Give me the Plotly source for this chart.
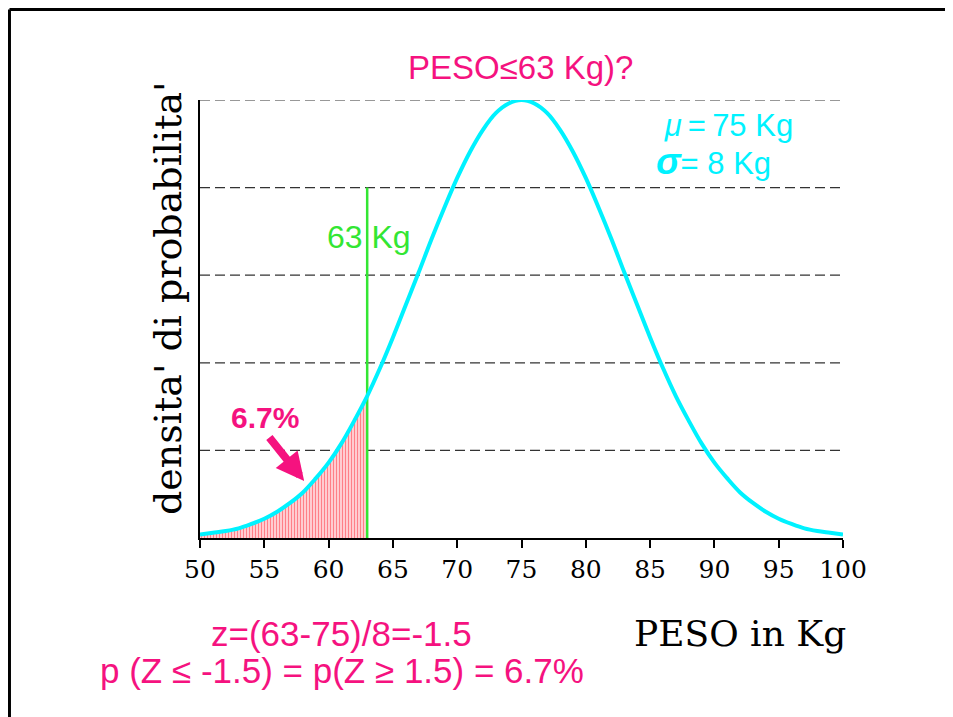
import plotly.graph_objects as go

# Values: density on a 0-5 scale (5 = peak, top dashed line)
peso = list(range(50, 101))
densita = [
    0.04, 0.06, 0.08, 0.11, 0.16, 0.22, 0.30, 0.40, 0.52, 0.68,
    0.86, 1.08, 1.34, 1.62, 1.94, 2.29, 2.66, 3.03, 3.41, 3.77,
    4.11, 4.41, 4.66, 4.85, 4.96, 5.00, 4.96, 4.85, 4.66, 4.41,
    4.11, 3.77, 3.41, 3.03, 2.66, 2.29, 1.94, 1.62, 1.34, 1.08,
    0.86, 0.68, 0.52, 0.40, 0.30, 0.22, 0.16, 0.11, 0.08, 0.06,
    0.04,
]
soglia = 63
soglia_alt = 4
x_ticks = list(range(50, 101, 5))
grid_levels = [1, 2, 3, 4, 5]

MAGENTA = "#F5127F"
CYAN = "#00F2FF"
GREEN = "#33E633"

# area under the curve up to the threshold
coda_x = [p for p in peso if p <= soglia]
coda_y = densita[:len(coda_x)]

fig = go.Figure()

fig.add_trace(go.Scatter(
    x=coda_x, y=coda_y, mode="lines", line=dict(width=0, shape="spline"),
    fill="tozeroy", fillcolor="rgba(0,0,0,0)",
    fillpattern=dict(shape="|", fgcolor="#FF0010", bgcolor="white",
                     size=3, solidity=0.6),
    hoverinfo="skip", showlegend=False,
))
fig.add_trace(go.Scatter(
    x=[soglia, soglia], y=[0, soglia_alt], mode="lines",
    line=dict(color=GREEN, width=2.5), showlegend=False,
))
fig.add_trace(go.Scatter(
    x=peso, y=densita, mode="lines",
    line=dict(color=CYAN, width=4, shape="spline"),
    cliponaxis=False, showlegend=False,
))

# dashed reference lines
for lv in grid_levels:
    fig.add_shape(type="line", xref="x", yref="y", x0=50, x1=100.2, y0=lv, y1=lv,
                  line=dict(color="#333", width=1.2, dash="10px,5px"), layer="below")

ann = [
    dict(text="PESO\u226463 Kg)?", x=0.4977, y=1.0753, font=dict(size=33, color=MAGENTA,
         family="Liberation Sans")),
    dict(text="z=(63-75)/8=-1.5", x=0.2208, y=-0.219,
         font=dict(size=35, color=MAGENTA, family="Liberation Sans")),
    dict(text="p (Z \u2264 -1.5) = p(Z \u2265 1.5) = 6.7%", x=0.2208, y=-0.3014,
         font=dict(size=35, color=MAGENTA, family="Liberation Sans")),
    dict(text="PESO in Kg", x=0.8398, y=-0.217,
         font=dict(size=36, color="black", family="DejaVu Serif")),
    dict(text="densita' di probabilita'", x=-0.0498, y=0.548, textangle=-90,
         font=dict(size=38, color="black", family="DejaVu Serif")),
]
for a in ann:
    fig.add_annotation(xref="paper", yref="paper", showarrow=False,
                       xanchor="center", yanchor="middle", **a)

# mu / sigma block, one annotation with two lines
fig.add_annotation(
    xref="paper", yref="paper", x=0.706, y=0.897, xanchor="left", yanchor="middle",
    align="left", showarrow=False,
    text=("<span style='font-size:31px'>&nbsp;<i>\u03bc</i>\u2009=\u200975 Kg</span><br>"
          "<b><i><span style='font-size:37px'>\u03c3</span></i></b>"
          "<span style='font-size:31px'>= 8 Kg</span>"),
    font=dict(size=29, color=CYAN, family="Liberation Sans"),
)

fig.add_annotation(x=63.13, y=3.44, text="63 Kg", showarrow=False, xanchor="center",
                   yanchor="middle", font=dict(size=32, color=GREEN, family="Liberation Sans"))
fig.add_annotation(x=55.05, y=1.37, text="<b>6.7%</b>", showarrow=False,
                   font=dict(size=30, color=MAGENTA, family="Liberation Sans"))
fig.add_annotation(x=58.1, y=0.65, ax=-36, ay=-45, text="", showarrow=True,
                   arrowhead=2, arrowsize=0.7, arrowwidth=8, arrowcolor=MAGENTA)

# slide frame
fig.add_shape(type="line", xref="paper", yref="paper", x0=-0.2963, x1=-0.2963,
              y0=1.2066, y1=-0.42, line=dict(color="black", width=3))
fig.add_shape(type="line", xref="paper", yref="paper", x0=-0.2963, x1=1.2,
              y0=1.2066, y1=1.2066, line=dict(color="black", width=3))

fig.update_xaxes(range=[50, 100], tickvals=x_ticks, showline=True, linecolor="black",
                 linewidth=1.5, ticks="outside", ticklen=8, tickwidth=1.5,
                 tickcolor="black", showgrid=False, zeroline=False,
                 tickfont=dict(family="DejaVu Serif", size=25, color="black"))
fig.update_yaxes(range=[0, 5], showticklabels=False, showline=True,
                 linecolor="black", linewidth=1.5, ticks="",
                 showgrid=False, zeroline=False)

# page body adds an 8px offset, so the figure is 8px smaller than the window
fig.update_layout(
    width=945, height=709,
    margin=dict(l=192, r=110, t=92, b=179),
    plot_bgcolor="white", paper_bgcolor="white",
    showlegend=False,
)

fig.write_html("out.html")
